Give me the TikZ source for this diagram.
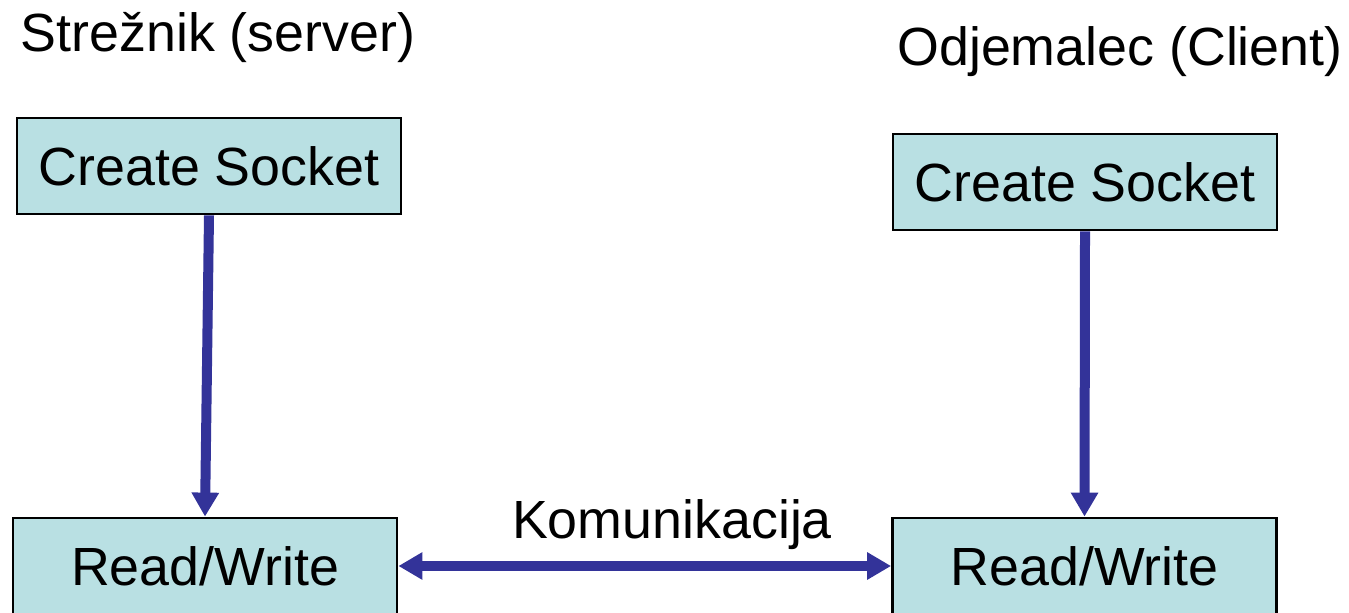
\documentclass[tikz,border=0pt]{standalone}
\usepackage{fontspec}
\setmainfont{Liberation Sans}
\usetikzlibrary{positioning,arrows.meta}
\definecolor{boxfill}{RGB}{185,224,227}
\definecolor{arrowblue}{RGB}{51,51,153}
\tikzset{box/.style={draw, thick, fill=boxfill, minimum width=3.84cm, minimum height=0.96cm, inner sep=0pt, font=\fontsize{15.3}{17}\selectfont}}
\tikzset{conn/.style={draw=arrowblue, line width=0.1cm, -{Triangle[width=0.26cm,length=0.24cm]}}}
\tikzset{lbl/.style={font=\fontsize{15.3}{17}\selectfont}}

\begin{document}
\begin{tikzpicture}

  \useasboundingbox (0,0) rectangle (13.49,6.12);

  \node[lbl] (srvtitle) at (2.18,5.75) {Strežnik (server)};
  \node[lbl] (clititle) at (11.2,5.60) {Odjemalec (Client)};

  \node[box] (srvcreate) at (2.09,4.46) {Create Socket};
  \node[box] (clicreate) at (10.85,4.30) {Create Socket};

  \node[box] (srvrw) at (2.05,0.46) {Read/Write};
  \node[box] (clirw) at (10.845,0.46) {Read/Write};

  \draw[conn] (srvcreate.south) -- (srvrw.north);
  \draw[conn] (clicreate.south) -- (clirw.north);

  \draw[conn, {Triangle[width=0.26cm,length=0.24cm]}-{Triangle[width=0.26cm,length=0.24cm]}] (srvrw.east) -- (clirw.west);
  \node[lbl] (komlbl) at (6.72,0.87) {Komunikacija};
\end{tikzpicture}
\end{document}
